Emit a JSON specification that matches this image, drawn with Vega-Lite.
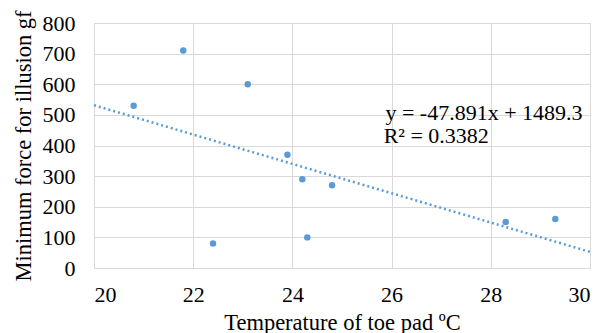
{
  "$schema": "https://vega.github.io/schema/vega-lite/v6.json",
  "width": 496,
  "height": 245,
  "autosize": {"type": "none"},
  "padding": {"left": 94, "top": 23, "right": 21, "bottom": 65},
  "background": "white",
  "config": {
    "view": {"stroke": "#d9d9d9", "strokeWidth": 1},
    "font": "Liberation Serif"
  },
  "datasets": {
    "pts": [
      {"temp": 20.8, "force": 530},
      {"temp": 21.8, "force": 710},
      {"temp": 22.4, "force": 80},
      {"temp": 23.1, "force": 600},
      {"temp": 23.9, "force": 370},
      {"temp": 24.2, "force": 290},
      {"temp": 24.3, "force": 100},
      {"temp": 24.8, "force": 270},
      {"temp": 28.3, "force": 150},
      {"temp": 29.3, "force": 160}
    ],
    "trend": [
      {"temp": 20, "force": 531.5},
      {"temp": 30, "force": 52.6}
    ],
    "notes": [
      {"temp": 29.85, "force": 483, "label": "y = -47.891x + 1489.3"},
      {"temp": 27.96, "force": 408, "label": "R² = 0.3382"}
    ]
  },
  "encoding": {
    "x": {
      "field": "temp", "type": "quantitative",
      "scale": {"domain": [20, 30], "nice": false, "zero": false},
      "axis": {
        "values": [20, 22, 24, 26, 28, 30],
        "labelFont": "Liberation Serif", "labelFontSize": 22, "labelColor": "#000",
        "titleFont": "Liberation Serif", "titleFontSize": 22.5, "titleFontWeight": "normal", "titleColor": "#000",
        "gridColor": "#d9d9d9", "domain": false, "ticks": false,
        "labelPadding": 16, "title": "Temperature of toe pad ºC", "titlePadding": 6
      }
    },
    "y": {
      "field": "force", "type": "quantitative",
      "scale": {"domain": [0, 800], "nice": false},
      "axis": {
        "values": [0, 100, 200, 300, 400, 500, 600, 700, 800],
        "labelFont": "Liberation Serif", "labelFontSize": 22, "labelColor": "#000",
        "titleFont": "Liberation Serif", "titleFontSize": 22.5, "titleFontWeight": "normal", "titleColor": "#000",
        "gridColor": "#d9d9d9", "domain": false, "ticks": false,
        "labelPadding": 19, "title": "Minimum force for illusion gf", "titlePadding": 7
      }
    }
  },
  "layer": [
    {
      "data": {"name": "trend"},
      "mark": {"type": "line", "color": "#5b9bd5", "strokeWidth": 2.5, "strokeDash": [2, 3]}
    },
    {
      "data": {"name": "pts"},
      "mark": {"type": "circle", "color": "#5b9bd5", "opacity": 1, "size": 42}
    },
    {
      "data": {"name": "notes"},
      "mark": {"type": "text", "font": "Liberation Serif", "fontSize": 22, "color": "#000", "align": "right", "baseline": "alphabetic"},
      "encoding": {
        "x": {"field": "temp", "type": "quantitative"},
        "y": {"field": "force", "type": "quantitative"},
        "text": {"field": "label"}
      }
    }
  ]
}
